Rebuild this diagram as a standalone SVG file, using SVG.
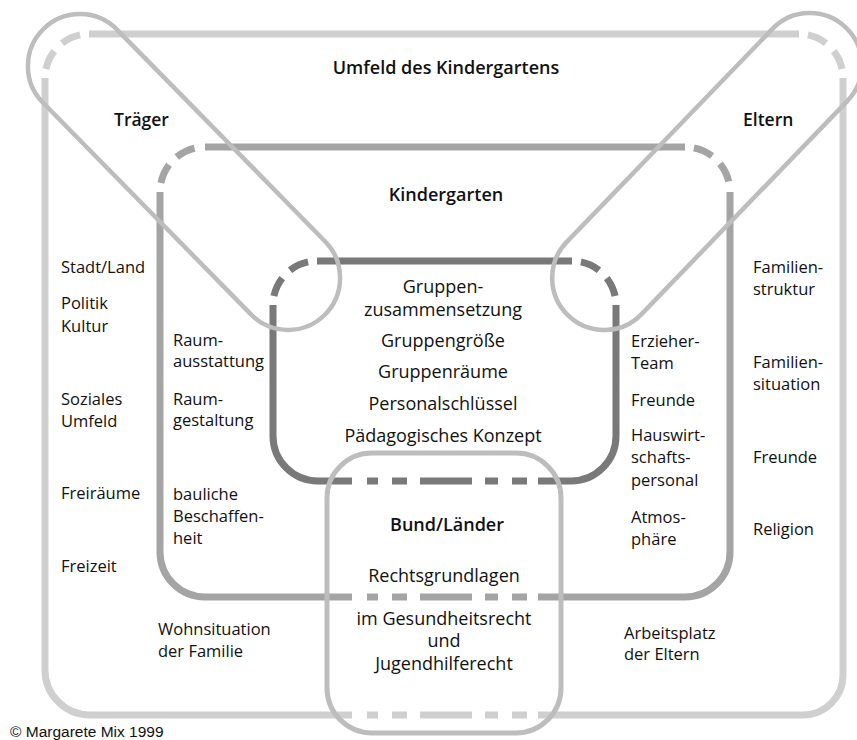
<svg xmlns="http://www.w3.org/2000/svg" width="857" height="740" viewBox="0 0 857 740">
<style>
  .frame { fill: none; stroke-linecap: butt; stroke-linejoin: round; }
  .umf { stroke: #cfcfcf; stroke-width: 7; }
  .kg { stroke: #a4a4a4; stroke-width: 7; }
  .gr { stroke: #797979; stroke-width: 7; }
  .cap { fill: none; stroke: #bdbdbd; stroke-width: 4.5; }
  .bund { fill: none; stroke: #bdbdbd; stroke-width: 5; }
  .dc { stroke-dasharray: 0 9 20 11 20 60; }
  text { font-family: "Open Sans", "Noto Sans", "DejaVu Sans", sans-serif; fill: #111; }
  .t { font-size: 16.5px; }
  .c { font-size: 18px; text-anchor: middle; }
  .h { font-size: 17.5px; font-weight: 600; }
  .hc { font-size: 18px; font-weight: 600; text-anchor: middle; }
  .copy { font-family: "Liberation Sans", Arial, sans-serif; font-size: 15.5px; }
</style>
<rect width="857" height="740" fill="#ffffff"/>
<g id="umfeld">
  <path class="frame umf" d="M45,78 L45,670 A45,45 0 0 0 90,715 L352,715 M367,715 L378,715 M392,715 L407,715 M420,715 L472,715 M485,715 L498,715 M512,715 L527,715 M538,715 L803,715 A40,40 0 0 0 843,675 L843,78 M799,34 L89,34"/>
  <path class="frame umf dc" d="M45,78 A44,44 0 0 1 89,34 M799,34 A44,44 0 0 1 843,78"/>
  <text class="hc" x="446" y="74">Umfeld des Kindergartens</text>
  <text class="t" x="61" y="273">Stadt/Land</text>
  <text class="t" x="61" y="309">Politik</text>
  <text class="t" x="61" y="332">Kultur</text>
  <text class="t" x="61" y="405">Soziales</text>
  <text class="t" x="61" y="427">Umfeld</text>
  <text class="t" x="61" y="499">Freiräume</text>
  <text class="t" x="61" y="572">Freizeit</text>
  <text class="t" x="158" y="635">Wohnsituation</text>
  <text class="t" x="158" y="657">der Familie</text>
  <text class="t" x="624" y="639">Arbeitsplatz</text>
  <text class="t" x="624" y="660">der Eltern</text>
  <text class="t" x="753" y="273">Familien-</text>
  <text class="t" x="753" y="295">struktur</text>
  <text class="t" x="753" y="368">Familien-</text>
  <text class="t" x="753" y="390">situation</text>
  <text class="t" x="753" y="463">Freunde</text>
  <text class="t" x="753" y="535">Religion</text>
</g>
<g id="kindergarten">
  <path class="frame kg" d="M160,192 L160,552 A45,45 0 0 0 205,597 L352,597 M367,597 L378,597 M392,597 L407,597 M420,597 L472,597 M485,597 L498,597 M512,597 L527,597 M538,597 L685,597 A45,45 0 0 0 730,552 L730,192 M685,147 L205,147"/>
  <path class="frame kg dc" d="M160,192 A45,45 0 0 1 205,147 M685,147 A45,45 0 0 1 730,192"/>
  <text class="hc" x="446" y="201">Kindergarten</text>
  <text class="t" x="173" y="346">Raum-</text>
  <text class="t" x="173" y="367">ausstattung</text>
  <text class="t" x="173" y="405">Raum-</text>
  <text class="t" x="173" y="426">gestaltung</text>
  <text class="t" x="173" y="500">bauliche</text>
  <text class="t" x="173" y="522">Beschaffen-</text>
  <text class="t" x="173" y="544">heit</text>
  <text class="t" x="631" y="347">Erzieher-</text>
  <text class="t" x="631" y="369">Team</text>
  <text class="t" x="631" y="406">Freunde</text>
  <text class="t" x="631" y="441">Hauswirt-</text>
  <text class="t" x="631" y="463">schafts-</text>
  <text class="t" x="631" y="486">personal</text>
  <text class="t" x="631" y="523">Atmos-</text>
  <text class="t" x="631" y="545">phäre</text>
</g>
<g id="gruppe">
  <path class="frame gr" d="M273,305 L273,436 A45,45 0 0 0 318,481 L352,481 M367,481 L378,481 M392,481 L407,481 M420,481 L472,481 M485,481 L498,481 M512,481 L527,481 M538,481 L571,481 A45,45 0 0 0 616,436 L616,305 M572,261 L317,261"/>
  <path class="frame gr dc" d="M273,305 A44,44 0 0 1 317,261 M572,261 A44,44 0 0 1 616,305"/>
  <text class="c" x="443" y="293">Gruppen-</text>
  <text class="c" x="443" y="316">zusammensetzung</text>
  <text class="c" x="443" y="347">Gruppengröße</text>
  <text class="c" x="443" y="378">Gruppenräume</text>
  <text class="c" x="443" y="410">Personalschlüssel</text>
  <text class="c" x="443" y="442">Pädagogisches Konzept</text>
</g>
<g id="traeger">
  <rect class="cap" x="-200.5" y="-52" width="401" height="104" rx="52" transform="translate(184,172) rotate(45.5)"/>
  <text class="h" x="114" y="126">Träger</text>
</g>
<g id="eltern">
  <rect class="cap" x="-200" y="-52" width="400" height="104" rx="52" transform="translate(707,171.5) rotate(-46)"/>
  <text class="h" x="743" y="126">Eltern</text>
</g>
<g id="bund">
  <rect class="bund" x="327" y="453" width="234" height="280" rx="45"/>
  <text class="hc" x="447" y="531">Bund/Länder</text>
  <text class="c" x="444" y="582">Rechtsgrundlagen</text>
  <text class="c" x="444" y="625">im Gesundheitsrecht</text>
  <text class="c" x="444" y="647">und</text>
  <text class="c" x="444" y="670">Jugendhilferecht</text>
</g>
<g id="connectors"/>
<text class="copy" x="10" y="737">© Margarete Mix 1999</text>
</svg>
